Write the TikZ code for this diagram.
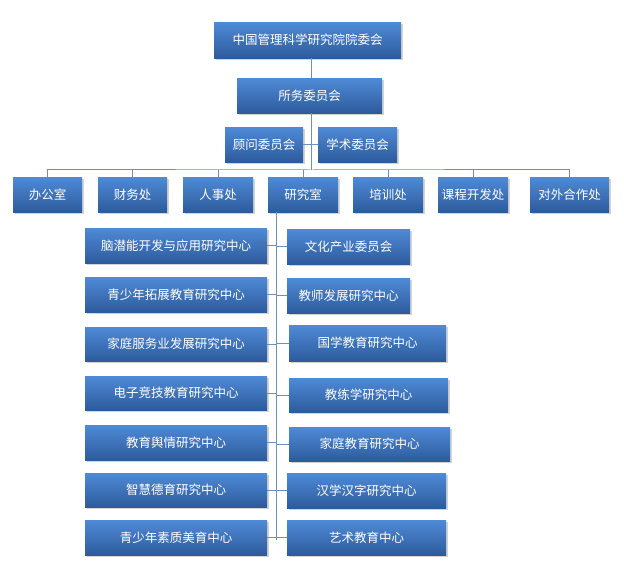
\documentclass[tikz,border=0pt]{standalone}
\usepackage{fontspec}
\setmainfont{Noto Sans CJK SC}
\usetikzlibrary{shadows}
\definecolor{btop}{HTML}{4F8AD6}
\definecolor{bbot}{HTML}{2D5B9C}
\definecolor{ln}{HTML}{6F8FC0}
\begin{document}
\begin{tikzpicture}[x=1pt,y=-1pt,
  bx/.style={draw=none,top color=btop,bottom color=bbot,text=white,font=\fontsize{12.5}{14}\selectfont,inner sep=0pt,anchor=north west,drop shadow={shadow xshift=1.5pt,shadow yshift=-1.5pt,opacity=0.35}},
  cn/.style={draw=ln,line width=1pt}]
\useasboundingbox (0,0) rectangle (624,564);
\newcommand{\bb}[6]{\node[bx,minimum width=#4-#2,minimum height=#5-#3] (#1) at (#2,#3) {#6};}
\bb{top}{214}{22}{401}{58}{中国管理科学研究院院委会}
\bb{sw}{237}{78}{382}{113}{所务委员会}
\bb{gw}{225}{127}{303}{162}{顾问委员会}
\bb{xs}{318}{127}{397}{162}{学术委员会}
\bb{a1}{13}{177}{82}{212}{办公室}
\bb{a2}{98}{177}{167}{212}{财务处}
\bb{a3}{183}{177}{253}{212}{人事处}
\bb{a4}{268}{177}{338}{212}{研究室}
\bb{a5}{353}{177}{423}{212}{培训处}
\bb{a6}{438}{177}{508}{212}{课程开发处}
\bb{a7}{530}{177}{609}{212}{对外合作处}
\bb{l1}{85}{228}{267}{263}{脑潜能开发与应用研究中心}
\bb{l2}{85}{277}{267}{312}{青少年拓展教育研究中心}
\bb{l3}{85}{327}{267}{361}{家庭服务业发展研究中心}
\bb{l4}{85}{376}{267}{410}{电子竞技教育研究中心}
\bb{l5}{85}{425}{267}{460}{教育舆情研究中心}
\bb{l6}{85}{473}{267}{507}{智慧德育研究中心}
\bb{l7}{85}{520}{267}{555}{青少年素质美育中心}
\bb{r1}{287}{229}{410}{264}{文化产业委员会}
\bb{r2}{287}{278}{410}{313}{教师发展研究中心}
\bb{r3}{289}{325}{446}{361}{国学教育研究中心}
\bb{r4}{289}{378}{448}{412}{教练学研究中心}
\bb{r5}{289}{427}{450}{461}{家庭教育研究中心}
\bb{r6}{287}{473}{446}{508}{汉学汉字研究中心}
\bb{r7}{287}{520}{446}{555}{艺术教育中心}
\coordinate (bus) at (311,170);
\coordinate (vb) at (276,540);
\draw[cn] (top.south -| bus) -- (sw.north -| bus);
\draw[cn] (sw.south -| bus) -- (bus);
\draw[cn] (gw.east) -- (xs.west);
\draw[cn] (a1.north) |- (bus) -| (a7.north);
\foreach \n in {a2,a3,a4,a5,a6} \draw[cn] (\n.north) -- (\n.north |- bus);
\draw[cn] (a4.south -| vb) -- (vb);
\foreach \n in {l1,l2,l3,l4,l5,l6,l7} \draw[cn] (\n.east) -- (\n.east -| vb);
\foreach \n in {r1,r2,r3,r4,r5,r6,r7} \draw[cn] (\n.west) -- (\n.west -| vb);
\end{tikzpicture}
\end{document}
